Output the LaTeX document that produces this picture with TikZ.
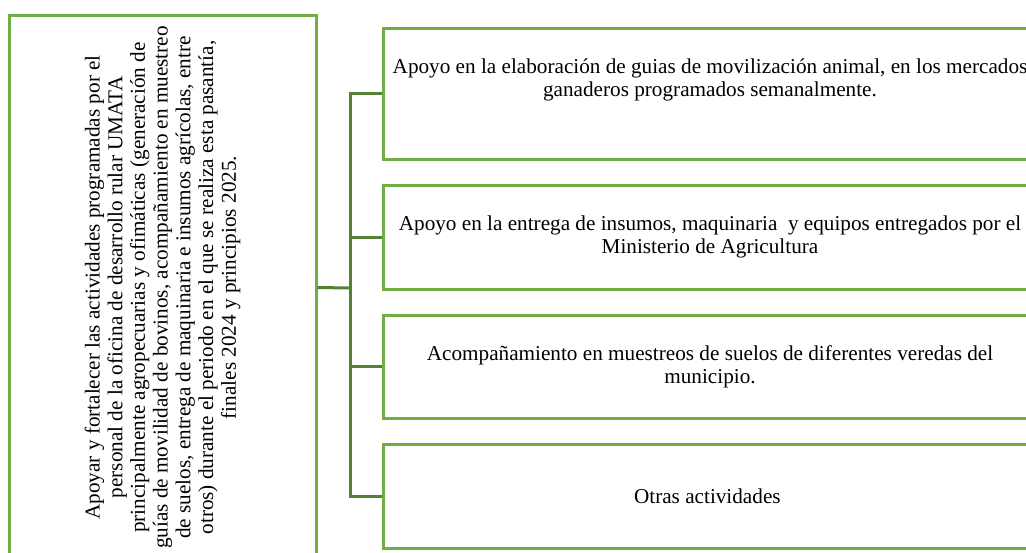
\documentclass[tikz,border=0pt]{standalone}
\usepackage{fontspec}
\setmainfont{Liberation Serif}
\definecolor{verdecaja}{RGB}{112,173,71}
\definecolor{verdelinea}{RGB}{84,130,53}
\tikzset{
	caja/.style={draw=verdecaja, line width=3pt, fill=white, align=center, inner sep=4pt,
		font=\fontsize{21.2}{23}\selectfont},
	conector/.style={draw=verdelinea, line width=3pt}
}
\begin{document}
\begin{tikzpicture}[x=1pt, y=-1pt]
		\useasboundingbox ( 0, 0 ) rectangle ( 1026, 552 );

		% objetivo general
		\node [caja, rotate=90, minimum width=545pt, minimum height=307pt,
			font=\fontsize{21.2}{22.7}\selectfont] (objetivo) at ( 162.5, 287.5 )
			{ Apoyar y fortalecer las actividades programadas por el \\
			  personal de la oficina de desarrollo rular UMATA \\
			  principalmente agropecuarias y ofimáticas (generación de \\
			  guías de movilidad de bovinos, acompañamiento en muestreo \\
			  de suelos, entrega de maquinaria e insumos agrícolas, entre \\
			  otros) durante el periodo en el que se realiza esta pasantía, \\
			  finales 2024 y principios 2025. };

		% actividades
		\node [caja, minimum width=654pt, minimum height=131pt, text depth=31pt] (act1) at ( 710, 93.5 )
			{ Apoyo en la elaboración de guias de movilización animal, en los mercados \\
			  ganaderos programados semanalmente. };
		\node [caja, minimum width=654pt, minimum height=104pt] (act2) at ( 710, 237 )
			{ Apoyo en la entrega de insumos, maquinaria\ \ y equipos entregados por el \\
			  Ministerio de Agricultura };
		\node [caja, minimum width=654pt, minimum height=103pt] (act3) at ( 710, 366.5 )
			{ Acompañamiento en muestreos de suelos de diferentes veredas del \\
			  municipio. };
		\node [caja, minimum width=654pt, minimum height=104pt] (act4) at ( 710, 496 )
			{ Otras actividades };

		% conectores
		\coordinate (tronco) at ( 350, 288 );
		\draw [conector] (objetivo.south) -- (tronco);
		\foreach \i in {1,...,4}
			\draw [conector] (act\i.west) -| (tronco);
	\end{tikzpicture}
\end{document}
